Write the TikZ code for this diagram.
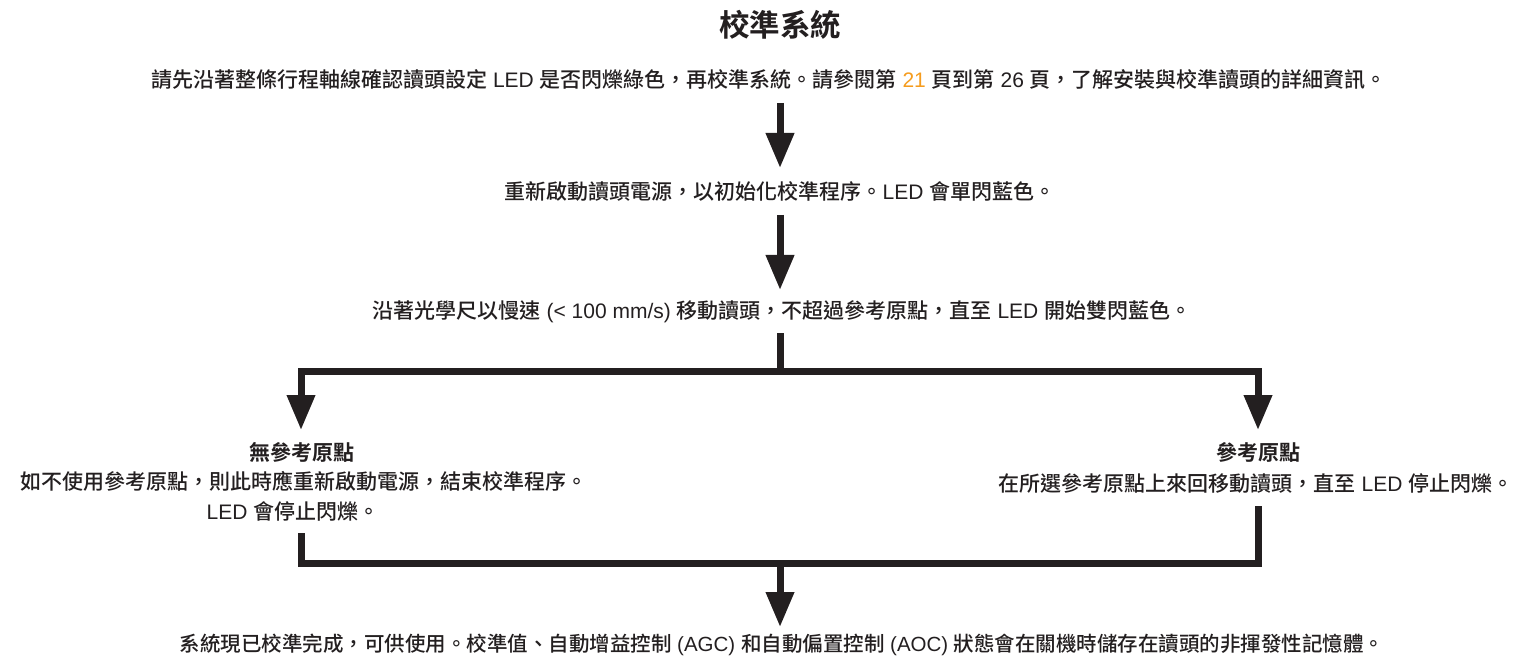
\documentclass[tikz,border=0pt]{standalone}
\usepackage{fontspec}
\setmainfont{Liberation Sans}
\newfontfamily\cjk{Noto Sans CJK TC Medium}[BoldFont={Noto Sans CJK TC Bold}]
\usetikzlibrary{arrows.meta}
\definecolor{ink}{RGB}{35,31,32}
\definecolor{pagenum}{RGB}{245,156,30}
\newcommand\C[1]{{\cjk #1}}
\begin{document}
\begin{tikzpicture}[x=1pt,y=-1pt,
  txt/.style={text=ink, inner sep=0pt, font=\fontsize{21}{30}\selectfont, align=center},
  lbl/.style={txt, font=\fontsize{21}{30}\selectfont\bfseries},
  ttl/.style={text=ink, inner sep=0pt, font=\fontsize{30.5}{34}\selectfont\bfseries},
  flow/.style={draw=ink, line width=7pt, line join=miter, line cap=butt},
  head/.style={flow, -{Triangle[length=35pt,width=27pt]}}]
\useasboundingbox (0,0) rectangle (1517,660);

\node[ttl] (title) at (780,25) {\C{校準系統}};
\node[txt] (l1) at (769,80) {\C{請先沿著整條行程軸線確認讀頭設定} LED \C{是否閃爍綠色，再校準系統。請參閱第} \textcolor{pagenum}{21} \C{頁到第} 26 \C{頁，了解安裝與校準讀頭的詳細資訊。}};
\node[txt] (l2) at (780,192) {\C{重新啟動讀頭電源，以初始化校準程序。}LED \C{會單閃藍色。}};
\node[txt] (l3) at (782,312) {\C{沿著光學尺以慢速} (< 100 mm/s) \C{移動讀頭，不超過參考原點，直至} LED \C{開始雙閃藍色。}};

\node[lbl] (nolab) at (302,452) {\C{無參考原點}};
\node[txt] (notxt1) at (304,481) {\C{如不使用參考原點，則此時應重新啟動電源，結束校準程序。}};
\node[txt] (notxt2) at (293,511) {LED \C{會停止閃爍。}};
\node[lbl] (reflab) at (1258,452) {\C{參考原點}};
\node[txt] (reftxt) at (1256,484) {\C{在所選參考原點上來回移動讀頭，直至} LED \C{停止閃爍。}};
\node[txt, font=\fontsize{20.5}{30}\selectfont] (last) at (782,645) {\C{系統現已校準完成，可供使用。校準值、自動增益控制} (AGC) \C{和自動偏置控制} (AOC) \C{狀態會在關機時儲存在讀頭的非揮發性記憶體。}};

\coordinate (a1s) at (780,103);
\coordinate (a1e) at (780,168);
\coordinate (a2s) at (780,215);
\coordinate (a2e) at (780,290);
\coordinate (st) at (780,333);
\coordinate (br) at (780,371);
\coordinate (lt) at (301,430);
\coordinate (rt) at (1258,430);
\coordinate (lb) at (301,533);
\coordinate (rb) at (1258,506);
\coordinate (bm) at (780,563);
\coordinate (bt) at (780,627);

\draw[head] (a1s) -- (a1e);
\draw[head] (a2s) -- (a2e);
\draw[flow] (st) -- (br);
\draw[head] (br) -| (lt);
\draw[head] (br) -| (rt);
\draw[flow] (lb) |- (bm) -| (rb);
\draw[head] (bm) -- (bt);
\end{tikzpicture}
\end{document}
